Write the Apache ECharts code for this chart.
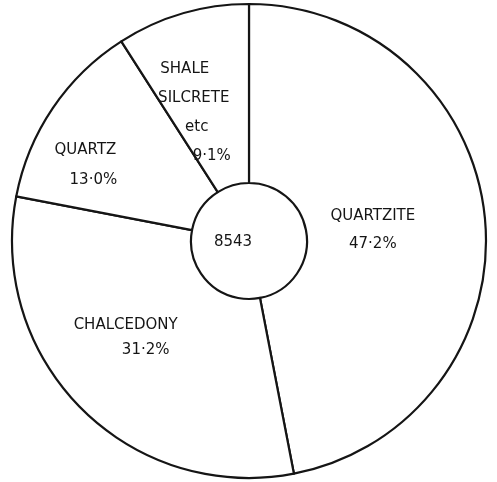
<!DOCTYPE html>
<html>
<head>
<meta charset="utf-8">
<script src="https://cdn.jsdelivr.net/npm/echarts@6/dist/echarts.min.js"></script>
<style>
  html, body { margin: 0; padding: 0; background: #fff; }
  #chart { width: 497px; height: 482px; }
</style>
</head>
<body>
<div id="chart"></div>
<script>
// Raw material composition of the stone artefact assemblage
const categories = ['QUARTZITE', 'CHALCEDONY', 'QUARTZ', 'SHALE\nSILCRETE\netc'];
const percentages = [47.2, 31.2, 13.0, 9.1];
const totalCount = 8543;

// Label placement tweaks: whole-label nudge [dx, dy], per-line horizontal shift, line spacing
const labelNudge = [[-26, 3], [-17, -10], [-39, 9], [-13, 16]];
const lineShift = [[0, 0], [0, 20], [0, 8], [-9, 0, 3, 18]];
const lineGap = [28, 25, 30, 29];

const FONT = 'DejaVu Sans';
const INK = '#151515';

function fmtPct(v) {
  return v.toFixed(1).replace('.', '\u00B7') + '%';
}

const sliceData = categories.map((name, i) => {
  const lines = name.split('\n').concat([fmtPct(percentages[i])]);
  const rich = {};
  const parts = lines.map((t, j) => {
    const s = lineShift[i][j] || 0;
    rich['r' + j] = {
      fontFamily: FONT,
      fontSize: 15,
      lineHeight: lineGap[i],
      color: INK,
      padding: s >= 0 ? [0, 0, 0, 2 * s] : [0, -2 * s, 0, 0]
    };
    return '{r' + j + '|' + t + '}';
  });
  return {
    name: name,
    value: percentages[i],
    label: { formatter: parts.join('\n'), rich: rich }
  };
});

const chart = echarts.init(document.getElementById('chart'), null, { renderer: 'canvas' });

chart.setOption({
  backgroundColor: '#ffffff',
  animation: false,
  series: [
    {
      type: 'pie',
      center: [249, 241],
      radius: [58, 237],
      startAngle: 90,
      clockwise: true,
      avoidLabelOverlap: false,
      silent: true,
      itemStyle: {
        color: '#ffffff',
        borderColor: INK,
        borderWidth: 2.2
      },
      emphasis: { disabled: true },
      label: {
        show: true,
        position: 'inside',
        fontFamily: FONT,
        fontSize: 15,
        color: INK
      },
      labelLine: { show: false },
      labelLayout: function (params) {
        const n = labelNudge[params.dataIndex];
        return { dx: n[0], dy: n[1] };
      },
      data: sliceData
    },
    {
      type: 'pie',
      center: [249, 241],
      radius: [0, 56],
      silent: true,
      itemStyle: { color: 'rgba(0,0,0,0)', borderWidth: 0 },
      emphasis: { disabled: true },
      label: {
        show: true,
        position: 'center',
        formatter: '{c}',
        fontFamily: FONT,
        fontSize: 15,
        color: INK
      },
      labelLine: { show: false },
      labelLayout: function () {
        return { dx: -16, dy: 1 };
      },
      data: [{ name: 'TOTAL', value: totalCount }]
    }
  ]
});
</script>
</body>
</html>
